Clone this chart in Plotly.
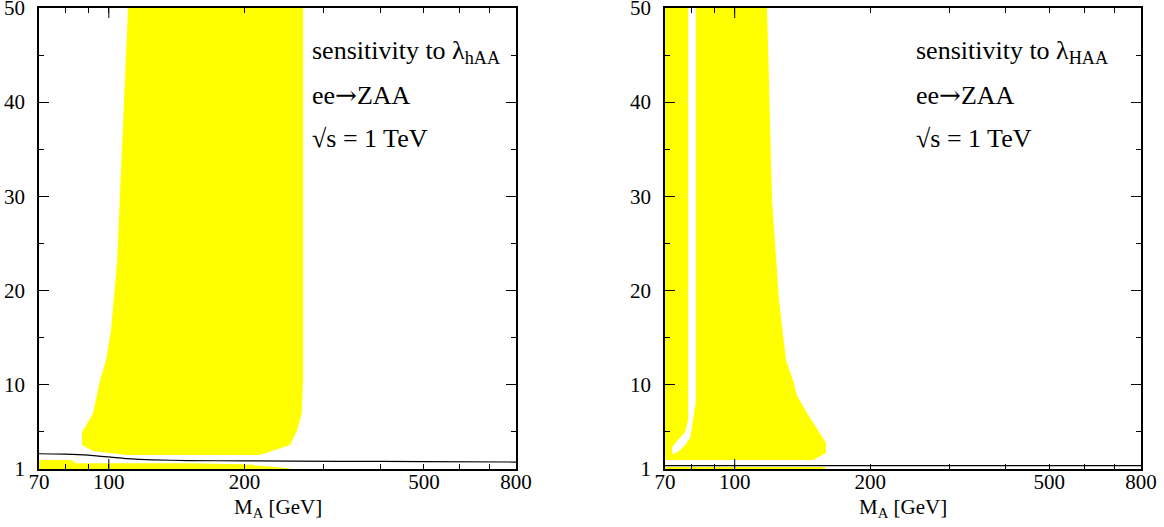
import plotly.graph_objects as go
import math

# ---------------- data ----------------
# left panel: sensitivity region to lambda_hAA (yellow)
hAA_region_x = [110.3, 105.9, 104.3, 101.1, 98.6, 95.6, 92.2, 87.2, 87.2, 92.2, 109.7,
                216.4, 252.3, 261.5, 267.8, 269.6, 269.6]
hAA_region_y = [50, 29.5, 23.0, 15.7, 12.6, 10.4, 6.9, 4.9, 3.55, 2.9, 2.48,
                2.48, 3.55, 5.1, 6.9, 10.4, 50]
hAA_strip_x = [70, 70, 82.5, 84.5, 150, 200, 250, 255]
hAA_strip_y = [1.0, 1.95, 1.95, 1.62, 1.6, 1.5, 1.08, 1.0]
hAA_curve_x = [70, 80, 90, 100, 110, 125, 150, 200, 325, 500, 800]
hAA_curve_y = [2.62, 2.58, 2.48, 2.28, 2.1, 1.97, 1.9, 1.86, 1.82, 1.78, 1.74]

# right panel: sensitivity region to lambda_HAA (yellow, with a white notch)
HAA_region_x = [70, 78.8, 78.8, 77.6, 74.8, 72.6, 72.6, 74.8, 77.6, 79.6, 80.8, 82.0, 82.0,
                118.0, 121.1, 125.5, 130.0, 134.8, 137.5, 144.8, 159.6, 159.6, 149.3, 70]
HAA_region_y = [50, 50, 6.2, 4.92, 4.08, 3.33, 2.59, 2.8, 3.55, 4.29, 6.2, 8.3, 50,
                50, 29.5, 18.9, 12.6, 10.4, 8.85, 6.94, 3.76, 2.7, 1.95, 1.95]
HAA_strip_x = [70, 70, 158.8, 158.8]
HAA_strip_y = [1.0, 1.2, 1.2, 1.0]
HAA_curve_x = [70, 800]
HAA_curve_y = [1.35, 1.35]

x_tickvals = [70, 100, 200, 500, 800]
x_minor = [80, 90, 300, 400, 600, 700]
y_tickvals = [1, 10, 20, 30, 40, 50]
y_minor = [5, 15, 25, 35, 45]

ARROW = '<span style="font-family:DejaVu Serif">→</span>'
labels_left = ["sensitivity to λ<sub>hAA</sub>", "ee" + ARROW + "ZAA", "√s = 1 TeV"]
labels_right = ["sensitivity to λ<sub>HAA</sub>", "ee" + ARROW + "ZAA", "√s = 1 TeV"]
x_title = "M<sub>A</sub> [GeV]"

# ---------------- figure ----------------
YEL = "#FFFF00"
FONT = "Liberation Serif"
fig = go.Figure()

def poly(x, y, xa, ya):
    fig.add_trace(go.Scatter(x=x, y=y, mode="lines", fill="toself", fillcolor=YEL,
                             line=dict(width=0, color=YEL), hoverinfo="skip",
                             showlegend=False, xaxis=xa, yaxis=ya))

poly(hAA_region_x, hAA_region_y, "x", "y")
poly(hAA_strip_x, hAA_strip_y, "x", "y")
fig.add_trace(go.Scatter(x=hAA_curve_x, y=hAA_curve_y, mode="lines",
                         line=dict(color="black", width=1.2, shape="spline", smoothing=0.6),
                         showlegend=False, xaxis="x", yaxis="y"))
poly(HAA_region_x, HAA_region_y, "x2", "y2")
poly(HAA_strip_x, HAA_strip_y, "x2", "y2")
fig.add_trace(go.Scatter(x=HAA_curve_x, y=HAA_curve_y, mode="lines",
                         line=dict(color="black", width=1.2), showlegend=False,
                         xaxis="x2", yaxis="y2"))

W, H = 1164, 527
L, R, T, B = 39, W - 1141, 8, H - 469
pw = W - L - R
ph = H - T - B
d1 = [0, (516 - L) / pw]
d2 = [(665 - L) / pw, 1]

xr = [math.log10(70), math.log10(800)]
common_x = dict(type="log", range=xr, tickvals=x_tickvals, ticktext=[str(v) for v in x_tickvals],
                ticks="inside", ticklen=5, tickwidth=1, tickcolor="black",
                minor=dict(tickvals=x_minor, ticks="inside", ticklen=5, tickwidth=1, tickcolor="black"),
                showline=True, linecolor="black", linewidth=1.5, mirror="ticks",
                showgrid=False, zeroline=False, ticklabeloverflow="allow", automargin=False,
                ticklabelstandoff=-7,
                tickfont=dict(family=FONT, size=21, color="black"))
common_y = dict(range=[1, 50], tickvals=y_tickvals, ticks="inside", ticklen=10, tickwidth=1,
                tickcolor="black",
                minor=dict(tickvals=y_minor, ticks="inside", ticklen=5, tickwidth=1, tickcolor="black"),
                showline=True, linecolor="black", linewidth=1.5, mirror="ticks",
                showgrid=False, zeroline=False, ticklabeloverflow="allow", automargin=False,
                ticklabelstandoff=8,
                tickfont=dict(family=FONT, size=21, color="black"))

fig.update_layout(
    width=W, height=H, margin=dict(l=L, r=R, t=T, b=B, autoexpand=False),
    paper_bgcolor="white", plot_bgcolor="white",
    xaxis=dict(domain=d1, anchor="y", **common_x),
    yaxis=dict(domain=[0, 1], anchor="x", **common_y),
    xaxis2=dict(domain=d2, anchor="y2", **common_x),
    yaxis2=dict(domain=[0, 1], anchor="x2", **common_y),
)

# longer tick at 100 on both panels (bottom and top)
tl = 10 / ph
for xa, ya in (("x", "y"), ("x2", "y2")):
    for y0, y1 in ((0, tl), (1 - tl, 1)):
        fig.add_shape(type="line", xref=xa, yref=ya + " domain", x0=100, x1=100, y0=y0, y1=y1,
                      line=dict(color="black", width=1))

# axis titles
for xa in ("x", "x2"):
    fig.add_annotation(text=x_title, xref=xa + " domain", yref="paper", x=0.5, y=(469 - 508) / ph,
                       xanchor="center", yanchor="middle", showarrow=False,
                       font=dict(family=FONT, size=21, color="black"))

rows_py = [52, 95, 138]
for texts, px in ((labels_left, 310), (labels_right, 914)):
    for t, py in zip(texts, rows_py):
        fig.add_annotation(text=t, xref="paper", yref="paper",
                           x=(px - L) / pw, y=(H - B - py) / ph,
                           xanchor="left", yanchor="middle", showarrow=False,
                           font=dict(family=FONT, size=26, color="black"))

fig.write_html("out.html", config={"displayModeBar": False},
               post_script="document.body.style.margin='0px';")
